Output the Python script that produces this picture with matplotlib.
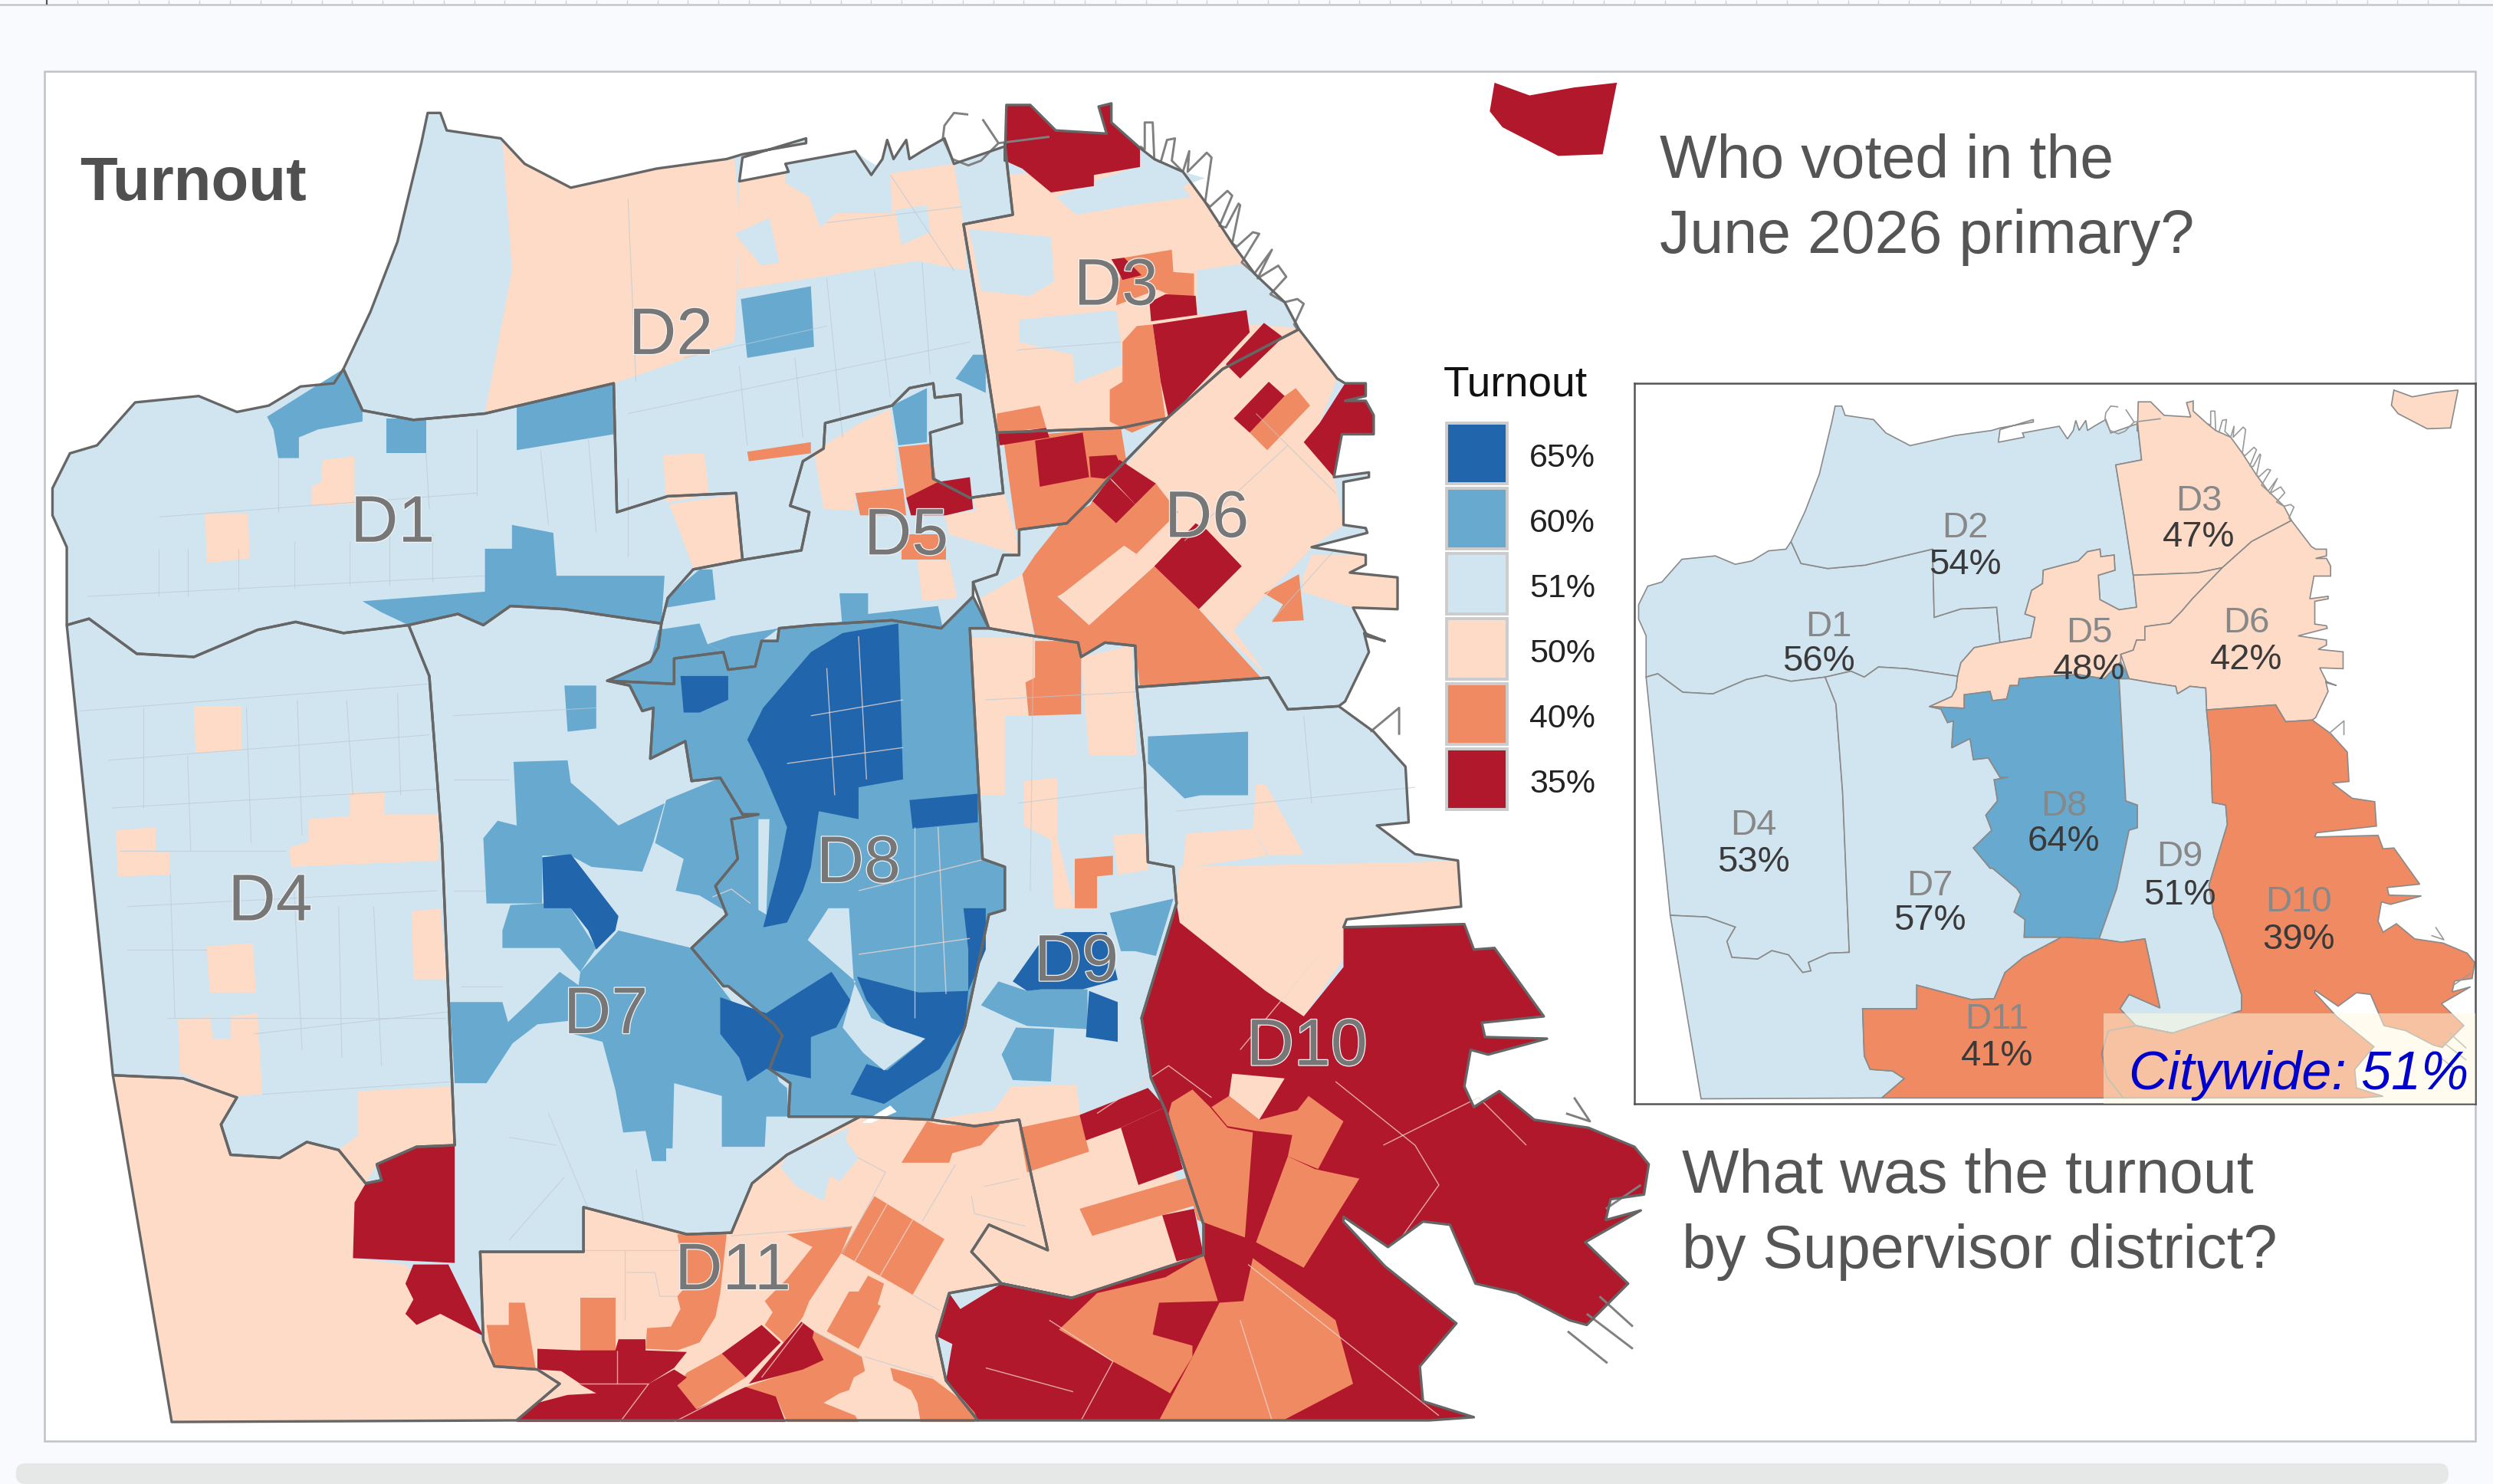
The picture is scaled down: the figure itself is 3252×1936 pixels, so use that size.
import matplotlib

matplotlib.use("Agg")
import matplotlib.pyplot as plt
import matplotlib.patheffects as pe
from matplotlib.collections import LineCollection
from matplotlib.patches import FancyBboxPatch, Rectangle

plt.rcParams["font.family"] = ["Liberation Sans", "DejaVu Sans"]

# colours of the six turnout classes
legend_labels = ["65%", "60%", "51%", "50%", "40%", "35%"]
legend_colours = ["#2166ac", "#67a9cf", "#d1e5f0", "#fddbc7", "#ef8a62", "#b2182b"]
C65, C60, C51, C50, C40, C35 = legend_colours

# district shapes
coast_d1 = [(42, 393), (42, 344), (33, 324), (33, 307), (44, 285), (61, 280), (85, 253), (125, 249), (149, 259), (169, 255), (189, 243), (210, 241), (216, 232)]
coast_d2 = [(233, 196), (250, 152), (265, 90), (269, 71), (277, 71), (281, 82), (315, 87), (330, 103), (359, 118), (413, 106), (457, 100), (467, 97), (507, 90), (507, 87), (467, 99), (465, 114), (496, 108), (494, 103), (538, 95), (548, 110), (555, 100), (558, 88), (562, 100), (570, 88), (572, 100), (580, 95), (594, 87), (600, 103), (632, 92)]
coast_d3 = [(632, 90), (632, 101), (633, 66), (648, 66), (664, 82), (696, 84), (691, 67), (699, 65), (699, 77), (717, 93), (726, 100), (744, 108), (758, 127), (775, 153), (789, 172), (808, 190), (817, 207)]
coast_d6 = [(841, 238), (846, 241), (859, 241), (859, 249), (846, 252), (859, 252), (864, 261), (864, 273), (844, 273), (839, 300), (861, 297), (861, 300), (845, 303), (845, 330), (859, 332), (860, 335), (825, 344), (859, 349), (859, 355), (849, 360), (879, 363), (879, 383), (851, 382), (860, 400), (871, 403), (858, 398), (861, 410), (846, 441), (842, 444)]
coast_d10 = [(864, 460), (884, 482), (886, 517), (866, 519), (890, 537), (917, 541), (919, 570), (847, 578), (845, 583), (921, 581), (927, 597), (940, 596), (971, 639), (932, 643), (934, 652), (973, 653), (936, 663), (925, 660), (921, 683), (927, 696), (943, 686), (965, 704), (999, 709), (1028, 721), (1037, 732), (1034, 751), (1013, 754), (1010, 767), (1032, 761), (997, 781), (1024, 807), (1019, 812), (998, 833), (987, 830), (954, 813), (928, 807), (912, 770), (895, 768), (873, 784), (845, 765), (845, 768), (871, 796), (916, 832), (893, 859), (895, 881), (927, 891), (899, 893)]

d1_d2_line = [(228, 258), (260, 264), (305, 260), (386, 241), (388, 322), (420, 312), (463, 310)]
d1_south = [(467, 352), (436, 358), (420, 376), (416, 392), (355, 383), (321, 381), (304, 393), (288, 386), (257, 393), (216, 398), (186, 391), (162, 396), (122, 413), (86, 411), (56, 389)]
d2_d5_line = [(631, 310), (610, 313), (587, 301), (585, 272), (605, 266), (604, 248), (588, 250), (587, 241), (572, 244), (561, 255), (519, 266), (518, 282), (505, 290), (497, 318), (509, 322), (504, 346), (467, 352)]
d3_west = [(627, 272), (616, 201), (606, 141), (637, 135)]
d3_d6_line = [(817, 207), (769, 232), (734, 263)]
d5_d6_line = [(734, 263), (698, 300), (685, 315), (671, 329), (641, 333), (641, 349), (631, 349), (627, 361), (612, 366)]
d8_north = [(382, 428), (424, 430), (424, 414), (455, 410), (458, 421), (475, 419), (479, 403), (489, 403), (490, 395), (511, 393), (561, 390), (592, 395), (612, 375)]
d8_west = [(382, 428), (396, 431), (404, 447), (411, 445), (409, 477), (431, 466), (435, 491), (453, 489), (467, 512), (477, 512), (460, 515), (464, 540), (450, 557), (457, 575), (435, 596), (455, 620), (458, 620), (487, 644), (492, 651), (484, 672), (497, 681), (496, 702), (541, 702)]
d8_d9_line = [(622, 395), (610, 395), (618, 540), (632, 545), (632, 572), (622, 575), (607, 645), (586, 704)]
d6_south = [(622, 395), (651, 400), (678, 404), (680, 413), (695, 404), (714, 406), (715, 432), (798, 426), (810, 446), (842, 444)]
d9_d10_line = [(715, 432), (720, 482), (722, 542), (738, 545), (740, 568), (718, 640), (724, 678), (733, 698), (757, 770), (757, 789), (674, 816)]
d11_d9_line = [(586, 704), (613, 708), (641, 704), (659, 786), (622, 770), (611, 787), (630, 807), (674, 816)]
d11_north = [(541, 702), (495, 726), (473, 744), (460, 775), (432, 776), (367, 759), (367, 787), (302, 787), (304, 843), (311, 859), (338, 861), (352, 870), (325, 893)]
d11_south = [(630, 807), (597, 813), (589, 840), (595, 868), (615, 893)]
d4_south = [(286, 720), (262, 721), (237, 732), (240, 742), (230, 744), (213, 723), (193, 718), (176, 728), (145, 726), (139, 707), (149, 690), (115, 678), (71, 676)]
d4_d7_line = [(257, 393), (270, 425), (278, 530), (286, 720)]

# the areas of one class, by turnout
peach_areas = [
    [(316, 87), (330, 103), (359, 118), (413, 106), (462, 100), (465, 140), (462, 215), (386, 241), (305, 260), (322, 170)],
    [(465, 114), (496, 108), (560, 109), (600, 103), (606, 140), (608, 170), (577, 164), (516, 174), (464, 182)],
    [(122, 444), (152, 444), (152, 472), (123, 473)],
    [(73, 522), (98, 520), (98, 536), (107, 536), (107, 550), (74, 551)],
    [(182, 533), (194, 529), (194, 515), (220, 513), (220, 498), (242, 498), (242, 512), (276, 512), (276, 541), (183, 545)],
    [(259, 573), (277, 571), (281, 616), (260, 616)],
    [(130, 595), (159, 593), (161, 624), (132, 624)],
    [(112, 641), (132, 639), (134, 653), (145, 653), (145, 639), (162, 637), (165, 688), (147, 689), (127, 681), (113, 674)],
    [(129, 323), (156, 323), (157, 351), (130, 354)],
    [(203, 289), (223, 287), (223, 317), (196, 318), (196, 306), (202, 303)],
    [(417, 286), (443, 285), (446, 311), (419, 316)],
    [(421, 317), (462, 311), (467, 352), (436, 357)],
    [(71, 676), (115, 678), (149, 690), (139, 707), (145, 726), (176, 728), (193, 718), (213, 723), (230, 744), (222, 791), (255, 795), (304, 843), (311, 859), (338, 861), (352, 870), (325, 893), (108, 893)],
    [(225, 686), (284, 683), (286, 720), (264, 721), (237, 732), (230, 744), (213, 723), (225, 714)],
    [(302, 787), (367, 787), (367, 759), (432, 776), (460, 775), (473, 744), (495, 726), (541, 702), (586, 704), (625, 698), (636, 683), (677, 682), (680, 705), (722, 690), (757, 789), (674, 816), (630, 807), (597, 813), (589, 840), (595, 868), (615, 893), (325, 893), (352, 870), (338, 861), (311, 859), (304, 843)],
    [(632, 92), (633, 110), (717, 103), (744, 108), (758, 127), (775, 153), (789, 172), (808, 190), (817, 207), (769, 232), (734, 263), (705, 269), (627, 272), (616, 201), (606, 141), (637, 135)],
    [(512, 284), (541, 266), (560, 257), (563, 280), (565, 306), (538, 310), (538, 321), (518, 320)],
    [(612, 313), (632, 311), (638, 332), (641, 349), (597, 336), (594, 324), (614, 321)],
    [(577, 352), (597, 352), (602, 376), (580, 378)],
    [(817, 207), (841, 238), (830, 266), (839, 300), (845, 330), (825, 344), (800, 370), (776, 396), (798, 426), (754, 383), (715, 349), (687, 317), (734, 263), (769, 232)],
    [(825, 349), (859, 349), (859, 355), (849, 360), (879, 363), (879, 383), (851, 382), (820, 392), (819, 364)],
    [(617, 376), (643, 361), (650, 398), (622, 395)],
    [(609, 401), (651, 401), (651, 426), (645, 429), (647, 450), (632, 450), (632, 500), (611, 500)],
    [(680, 413), (712, 406), (715, 475), (685, 475)],
    [(644, 491), (665, 489), (665, 527), (676, 571), (663, 571), (661, 528), (644, 519)],
    [(700, 525), (720, 524), (722, 547), (703, 550)],
    [(892, 542), (917, 541), (919, 570), (847, 578), (845, 603), (820, 639), (796, 623), (742, 580), (740, 563), (742, 545)],
    [(746, 524), (788, 521), (797, 538), (744, 546)],
    [(790, 493), (796, 493), (820, 537), (798, 538), (788, 521)],
]
light_areas = [
    [(494, 107), (538, 95), (546, 101), (560, 109), (561, 134), (526, 134), (516, 143), (509, 124), (494, 115)],
    [(563, 132), (583, 129), (585, 146), (567, 154)],
    [(462, 147), (484, 137), (490, 165), (479, 167)],
    [(664, 124), (688, 114), (717, 104), (726, 100), (744, 108), (758, 112), (744, 117), (749, 124), (712, 129), (677, 135)],
    [(609, 144), (661, 149), (663, 177), (648, 186), (617, 183), (612, 155)],
    [(641, 201), (702, 195), (707, 229), (676, 241), (675, 223), (641, 215)],
    [(753, 170), (780, 166), (789, 172), (808, 190), (815, 206), (785, 204), (753, 197)],
    [(776, 396), (812, 370), (851, 382), (859, 410), (842, 444), (810, 446), (798, 426)],
    [(534, 709), (532, 717), (540, 728), (528, 743), (522, 739), (518, 755), (501, 746), (491, 734), (495, 726)],
]
blue60_areas = [
    [(168, 262), (195, 245), (216, 232), (228, 258), (228, 265), (200, 270), (188, 275), (188, 288), (175, 288), (172, 270)],
    [(243, 263), (268, 263), (268, 285), (243, 285)],
    [(325, 255), (386, 241), (386, 273), (325, 283)],
    [(228, 378), (305, 372), (305, 345), (322, 345), (322, 330), (348, 335), (350, 362), (418, 362), (416, 392), (355, 383), (321, 381), (304, 393), (288, 386), (257, 393), (240, 385)],
    [(466, 188), (510, 180), (512, 218), (470, 225)],
    [(561, 255), (583, 244), (583, 278), (565, 280)],
    [(601, 238), (612, 223), (620, 223), (620, 247)],
    [(528, 373), (546, 373), (546, 386), (590, 381), (593, 395), (561, 390), (530, 396)],
    [(419, 376), (440, 358), (448, 358), (450, 377), (419, 382)],
    [(382, 428), (409, 416), (414, 396), (440, 392), (445, 405), (455, 410), (424, 414), (424, 430)],
    [(460, 400), (490, 395), (479, 403), (475, 419), (458, 421), (455, 410), (445, 405)],
    [(382, 428), (424, 430), (424, 414), (455, 410), (458, 421), (475, 419), (479, 403), (489, 403), (490, 395), (511, 393), (561, 390), (592, 395), (612, 375), (622, 395), (610, 395), (618, 540), (632, 545), (632, 572), (622, 575), (607, 645), (586, 704), (541, 702), (496, 702), (497, 681), (484, 672), (492, 651), (487, 644), (458, 620), (455, 620), (435, 596), (457, 575), (450, 557), (464, 540), (460, 515), (477, 512), (467, 512), (453, 489), (435, 491), (431, 466), (409, 477), (411, 445), (404, 447), (396, 431)],
    [(323, 479), (357, 478), (359, 492), (374, 505), (389, 519), (418, 505), (411, 529), (404, 548), (372, 545), (359, 538), (341, 538), (341, 568), (306, 568), (304, 527), (313, 516), (325, 519)],
    [(321, 569), (342, 568), (359, 571), (375, 596), (365, 611), (352, 596), (316, 596), (316, 585)],
    [(419, 503), (453, 489), (470, 510), (470, 545), (455, 572), (440, 563), (425, 560), (430, 540), (412, 530)],
    [(389, 585), (435, 596), (468, 640), (480, 650), (490, 680), (495, 684), (496, 702), (482, 702), (481, 721), (454, 721), (454, 689), (424, 681), (423, 722), (419, 722), (419, 730), (410, 730), (406, 711), (392, 712), (387, 685), (379, 655), (360, 650), (365, 611)],
    [(352, 611), (369, 623), (365, 641), (338, 644), (321, 657), (318, 644), (333, 630)],
    [(283, 630), (316, 630), (323, 655), (306, 681), (286, 681)],
    [(355, 431), (375, 431), (375, 458), (357, 460)],
    [(698, 574), (738, 565), (727, 601), (714, 598), (705, 598)],
    [(617, 632), (628, 617), (646, 623), (654, 622), (684, 622), (684, 647), (646, 645), (634, 640)],
    [(639, 646), (663, 647), (661, 680), (637, 679), (630, 663)],
    [(722, 463), (785, 460), (785, 500), (755, 500), (745, 502), (722, 480)],
]
blue65_areas = [
    [(470, 465), (480, 445), (510, 410), (530, 398), (565, 392), (568, 490), (540, 495), (540, 515), (515, 510), (510, 545), (505, 560), (495, 580), (480, 583), (490, 545), (495, 520), (480, 485)],
    [(428, 425), (458, 425), (458, 440), (440, 448), (430, 448)],
    [(341, 539), (359, 537), (389, 576), (387, 585), (375, 597), (370, 585), (359, 571), (342, 571)],
    [(453, 627), (482, 637), (499, 626), (523, 611), (535, 629), (526, 646), (510, 652), (510, 678), (482, 672), (470, 680), (465, 665), (453, 650)],
    [(539, 614), (578, 624), (609, 623), (607, 645), (591, 672), (556, 694), (535, 688), (545, 669), (558, 673), (580, 655), (559, 646), (545, 629)],
    [(572, 503), (615, 499), (615, 517), (574, 521)],
    [(606, 571), (620, 571), (620, 597), (609, 623), (609, 597)],
    [(637, 617), (654, 593), (670, 586), (696, 586), (703, 616), (681, 622), (655, 622), (646, 623)],
    [(685, 623), (703, 630), (703, 655), (683, 652)],
]
orange_areas = [
    [(470, 284), (510, 278), (510, 285), (471, 290)],
    [(707, 162), (737, 157), (738, 171), (751, 172), (751, 186), (737, 186), (728, 182), (702, 192), (704, 177)],
    [(715, 205), (725, 204), (733, 263), (712, 272), (698, 265), (698, 245), (706, 240), (706, 215)],
    [(627, 260), (654, 255), (658, 269), (627, 272)],
    [(631, 275), (705, 269), (709, 293), (685, 315), (671, 329), (639, 333), (634, 297)],
    [(538, 310), (568, 307), (570, 324), (541, 324)],
    [(565, 281), (585, 279), (590, 309), (570, 313)],
    [(567, 336), (595, 336), (595, 352), (567, 352)],
    [(815, 244), (824, 255), (797, 283), (786, 272), (808, 249)],
    [(643, 361), (651, 349), (671, 324), (687, 317), (715, 349), (665, 375), (685, 393), (726, 356), (754, 383), (793, 426), (717, 432), (714, 406), (695, 404), (680, 413), (678, 404), (651, 400)],
    [(687, 315), (702, 329), (714, 317), (727, 304), (741, 322), (708, 355), (671, 345)],
    [(817, 361), (820, 390), (800, 391), (807, 380), (795, 373)],
    [(651, 403), (680, 403), (680, 449), (647, 450), (645, 429), (651, 426)],
    [(676, 540), (700, 538), (700, 550), (690, 551), (690, 571), (676, 571)],
    [(679, 760), (748, 740), (751, 758), (687, 777)],
    [(641, 709), (679, 701), (685, 724), (646, 737)],
    [(583, 705), (591, 707), (613, 708), (629, 707), (617, 720), (599, 725), (597, 731), (567, 731)],
    [(550, 752), (594, 779), (574, 814), (529, 788)],
    [(546, 802), (556, 807), (552, 820), (554, 821), (540, 848), (520, 837), (534, 812), (540, 812)],
    [(306, 833), (320, 833), (320, 819), (330, 819), (337, 861), (310, 858)],
    [(365, 816), (387, 816), (387, 849), (365, 849)],
    [(426, 776), (457, 776), (453, 813), (450, 828), (440, 844), (426, 849), (406, 848), (407, 835), (422, 834), (428, 823), (426, 815), (432, 808)],
    [(495, 776), (536, 771), (529, 788), (509, 818), (505, 828), (493, 844), (481, 833), (486, 825), (481, 818), (495, 804), (511, 784)],
    [(454, 851), (469, 866), (438, 886), (426, 871), (432, 863)],
    [(469, 872), (505, 860), (512, 837), (542, 853), (544, 862), (537, 866), (534, 874), (528, 876), (518, 882), (538, 890), (540, 894), (495, 894), (488, 878), (474, 883)],
    [(560, 860), (587, 867), (615, 888), (613, 894), (579, 894), (577, 882), (573, 874), (562, 868)],
]
red_areas = [
    [(633, 66), (648, 66), (664, 82), (696, 84), (691, 67), (699, 65), (699, 77), (717, 93), (717, 105), (688, 110), (688, 117), (661, 121), (643, 106), (632, 101)],
    [(940, 52), (962, 60), (990, 55), (1017, 52), (1008, 97), (980, 98), (945, 80), (937, 70)],
    [(699, 163), (707, 162), (718, 173), (706, 176), (702, 168)],
    [(723, 190), (733, 185), (752, 186), (753, 198), (724, 202)],
    [(725, 204), (784, 195), (786, 209), (735, 263), (730, 240)],
    [(795, 203), (807, 212), (780, 238), (771, 229)],
    [(627, 273), (658, 269), (660, 275), (629, 280)],
    [(651, 277), (681, 272), (685, 300), (654, 306)],
    [(685, 287), (702, 286), (705, 293), (695, 301), (686, 300)],
    [(590, 303), (610, 300), (612, 320), (595, 324), (573, 324), (570, 313)],
    [(798, 240), (808, 249), (786, 272), (776, 263)],
    [(846, 241), (859, 241), (859, 249), (846, 252), (859, 252), (864, 261), (864, 273), (844, 273), (839, 300), (820, 278), (830, 266)],
    [(704, 289), (727, 304), (714, 317), (698, 300)],
    [(698, 301), (714, 317), (702, 329), (687, 315)],
    [(759, 333), (781, 356), (754, 383), (726, 356), (752, 329)],
    [(237, 732), (262, 721), (286, 720), (286, 794), (222, 791), (223, 756), (230, 744), (240, 742)],
    [(260, 795), (282, 795), (304, 840), (277, 826), (262, 833), (255, 826), (260, 817), (255, 807)],
    [(338, 848), (364, 849), (387, 849), (389, 842), (406, 842), (406, 849), (432, 850), (424, 860), (408, 870), (365, 870), (353, 862), (338, 861)],
    [(338, 882), (357, 877), (375, 876), (364, 870), (408, 870), (424, 861), (432, 866), (426, 871), (438, 886), (469, 872), (488, 878), (494, 894), (325, 894)],
    [(454, 851), (479, 833), (491, 844), (469, 866)],
    [(471, 870), (504, 831), (512, 837), (511, 841), (518, 855), (505, 861)],
    [(679, 701), (722, 684), (733, 696), (705, 709), (683, 717)],
    [(705, 709), (733, 696), (744, 735), (716, 745)],
    [(731, 764), (751, 760), (757, 789), (740, 793)],
    [(742, 580), (796, 623), (820, 639), (845, 608), (845, 583), (921, 581), (927, 597), (940, 596), (971, 639), (932, 643), (934, 652), (973, 653), (936, 663), (925, 660), (921, 683), (927, 696), (943, 686), (965, 704), (999, 709), (1028, 721), (1037, 732), (1034, 751), (1013, 754), (1010, 767), (1032, 761), (997, 781), (1024, 807), (1019, 812), (998, 833), (987, 830), (954, 813), (928, 807), (912, 770), (895, 768), (873, 784), (845, 765), (845, 768), (871, 796), (916, 832), (893, 859), (895, 881), (927, 891), (899, 893), (615, 893), (613, 888), (595, 868), (599, 845), (589, 840), (597, 813), (604, 823), (630, 807), (674, 816), (757, 789), (757, 770), (733, 698), (724, 678), (718, 640), (740, 568)],
]
top_orange_areas = [
    [(737, 693), (750, 685), (761, 696), (772, 709), (788, 712), (783, 778), (753, 767), (735, 700)],
    [(762, 696), (773, 689), (792, 704), (816, 698), (816, 714), (790, 711), (772, 708)],
    [(823, 689), (845, 705), (829, 735), (810, 727), (816, 698)],
    [(810, 727), (827, 735), (855, 741), (820, 797), (790, 781)],
    [(666, 836), (690, 813), (733, 803), (757, 789), (766, 818), (729, 819), (725, 839), (750, 846), (750, 853), (736, 876), (722, 868), (700, 856)],
    [(782, 818), (788, 791), (840, 830), (851, 870), (807, 893), (729, 893), (750, 853), (767, 819)],
]
top_peach_areas = [
    [(666, 375), (707, 343), (726, 356), (685, 393)],
    [(775, 675), (808, 678), (792, 704), (773, 689)],
]
top_light_areas = [
    [(508, 591), (521, 571), (534, 571), (537, 617), (548, 640), (561, 646), (582, 653), (556, 673), (543, 662), (530, 646), (538, 617)],
    [(477, 515), (484, 515), (482, 575), (477, 572)],
]
notch_area = [(542, 706), (560, 695), (564, 699), (548, 706)]

# thin precinct lines
precinct_lines = [
    [(55, 375), (305, 362)], [(100, 375), (100, 345)], [(118, 375), (118, 345)], [(150, 372), (150, 345)], [(185, 370), (185, 340)], [(220, 368), (220, 340)], [(245, 368), (245, 335)], [(272, 366), (272, 335)], [(100, 325), (300, 310)],
    [(175, 288), (175, 322)], [(268, 285), (270, 320)], [(300, 270), (300, 312)], [(340, 283), (345, 330)], [(370, 275), (375, 335)], [(395, 350), (395, 300)],
    [(50, 447), (270, 430)], [(68, 478), (270, 462)], [(70, 508), (275, 496)], [(75, 535), (180, 535)], [(80, 570), (275, 560)], [(80, 597), (130, 597)], [(105, 640), (280, 640)], [(160, 650), (283, 636)], [(165, 688), (285, 680)],
    [(90, 445), (90, 508)], [(118, 475), (120, 535)], [(155, 445), (158, 530)], [(187, 440), (190, 525)], [(218, 440), (222, 500)], [(250, 436), (252, 500)], [(107, 550), (110, 640)], [(185, 560), (190, 660)], [(213, 570), (215, 665)], [(235, 570), (240, 670)],
    [(395, 125), (400, 240)], [(430, 225), (520, 205)], [(520, 175), (530, 275)], [(550, 170), (560, 250)], [(580, 165), (585, 235)], [(395, 260), (610, 215)], [(465, 230), (470, 280)], [(500, 225), (505, 275)],
    [(285, 450), (375, 445)], [(285, 490), (320, 490)], [(285, 560), (305, 560)], [(290, 620), (316, 620)], [(320, 715), (350, 720)], [(345, 700), (370, 760)], [(400, 735), (405, 770)], [(355, 740), (320, 780)],
    [(620, 440), (715, 435)], [(640, 505), (720, 495)], [(650, 400), (648, 560)], [(740, 510), (890, 495)], [(820, 450), (825, 505)],
    [(560, 110), (600, 170)], [(520, 140), (605, 130)], [(640, 220), (705, 215)], [(745, 340), (810, 280)], [(790, 260), (840, 310)], [(800, 390), (840, 345)],
    [(460, 777), (536, 771)], [(367, 786), (430, 786)], [(393, 786), (393, 830)], [(394, 800), (412, 800), (415, 815), (426, 815)], [(574, 814), (591, 824)], [(512, 837), (542, 853)], [(544, 853), (587, 866)], [(557, 737), (540, 728)], [(601, 732), (580, 768)], [(619, 746), (641, 741)], [(611, 752), (613, 763), (645, 771)], [(557, 737), (530, 788)],
]
white_lines = [
    [(510, 450), (568, 440)], [(495, 480), (568, 470)], [(540, 400), (545, 490)], [(520, 420), (525, 500)], [(575, 520), (575, 640)], [(540, 560), (620, 540)], [(540, 600), (610, 590)], [(590, 520), (595, 625)],
    [(775, 395), (824, 346)], [(448, 564), (460, 559), (472, 568)],
    [(780, 660), (830, 600)], [(840, 680), (890, 720), (905, 745), (880, 780)], [(870, 720), (930, 690), (960, 720)], [(785, 795), (905, 890)], [(690, 700), (735, 670), (762, 690)], [(620, 860), (675, 875)], [(660, 830), (700, 856), (680, 893)],
    [(780, 830), (800, 893)], [(558, 757), (537, 794)], [(574, 767), (553, 803)], [(364, 870), (408, 870)], [(388, 849), (388, 870)], [(408, 870), (390, 894)], [(471, 870), (424, 894)], [(479, 866), (505, 832)],
]
# the horseshoe pier and the combs of piers
pier_lines = [
    [(609, 72), (600, 71), (594, 79), (593, 87), (599, 100), (609, 104), (617, 101), (628, 90), (618, 75)],
    [(628, 90), (660, 86)],
    [(717, 92), (720, 94), (720, 77), (725, 77), (726, 100), (730, 102), (734, 88), (739, 87), (737, 101), (744, 108), (748, 95), (747, 108), (759, 96), (762, 99), (758, 127), (761, 130), (772, 120), (775, 123), (767, 142), (771, 143), (779, 128), (780, 129), (775, 153), (778, 155), (788, 146), (792, 147), (781, 165), (789, 172), (800, 157), (791, 175), (804, 167), (809, 174), (799, 185), (808, 190), (816, 188), (820, 191), (814, 204), (816, 207)],
    [(986, 837), (1011, 857)], [(998, 826), (1027, 848)], [(1006, 815), (1027, 834)], [(1010, 760), (1032, 745)], [(985, 700), (1000, 705), (990, 690)], [(862, 460), (880, 445), (880, 462)],
]

main_labels = ["D1", "D2", "D3", "D4", "D5", "D6", "D7", "D8", "D9", "D10", "D11"]
main_label_x = [247, 422, 702, 170, 570, 759, 381, 540, 677, 822, 461]
main_label_y = [330, 212, 181, 568, 338, 327, 639, 544, 606, 659, 800]

inset_turnout = ["56%", "54%", "47%", "53%", "48%", "42%", "57%", "64%", "51%", "39%", "41%"]
inset_label_x = [1150, 1236, 1383, 1103, 1314, 1413, 1214, 1298, 1371, 1446, 1256]
inset_label_y = [394, 332, 315, 519, 398, 392, 557, 507, 539, 567, 641]
inset_value_x = [1144, 1236, 1383, 1103, 1314, 1413, 1214, 1298, 1371, 1446, 1256]
inset_value_y = [416, 355, 338, 542, 421, 415, 579, 529, 563, 591, 664]
district_colours = [C51, C51, C50, C51, C50, C50, C51, C60, C51, C40, C40]


def districts():
    # closed outlines, in the order of district_colours
    d1 = coast_d1 + d1_d2_line + d1_south
    d2 = [(216, 232)] + coast_d2 + [(637, 135), (606, 141), (616, 201), (627, 272)] + d2_d5_line + [(463, 310), (420, 312), (388, 322), (386, 241), (305, 260), (260, 264), (228, 258)]
    d3 = coast_d3 + d3_d6_line + [(705, 269)] + d3_west
    d4 = [(42, 393), (56, 389), (86, 411), (122, 413), (162, 396), (186, 391), (216, 398)] + d4_d7_line + d4_south
    d5 = [(416, 392), (414, 407), (409, 416)] + d8_north + [(612, 366)] + d5_d6_line[::-1] + [(705, 269), (627, 272)] + d2_d5_line + [(436, 358), (420, 376)]
    d6 = [(817, 207)] + coast_d6 + d6_south[::-1] + [(612, 366)] + d5_d6_line[::-1] + d3_d6_line[::-1]
    d7 = [(257, 393), (288, 386), (304, 393), (321, 381), (355, 383), (416, 392), (414, 407), (409, 416)] + d8_west + d11_north + [(108, 894)] + d4_south[::-1] + d4_d7_line[::-1]
    d8 = d8_north + d8_d9_line + [(541, 702)] + d8_west[::-1]
    d9 = d8_d9_line[::-1] + d6_south[:7] + d9_d10_line + d11_d9_line[::-1]
    d10 = [(842, 444)] + coast_d10 + d11_south[::-1] + d9_d10_line[::-1] + d6_south[6:]
    d11 = d11_north + [(615, 893)] + d11_south[::-1] + d11_d9_line[::-1]
    return [d1, d2, d3, d4, d5, d6, d7, d8, d9, d10, d11]


def fill_areas(axis, areas, colour, z):
    for area in areas:
        xs, ys = zip(*area)
        axis.fill(xs, ys, color=colour, lw=0, zorder=z)


fig = plt.figure(figsize=(16.26, 9.68), dpi=200, facecolor="#f8fafd")

ax = fig.add_axes([0, 0, 1, 1], zorder=1)
ax.set_xlim(0, 1568)
ax.set_ylim(933, 0)
ax.axis("off")

# page furniture
ax.add_patch(Rectangle((28, 45), 1529, 861, fc="white", ec="#bfc2c6", lw=0.9, zorder=0))
ax.add_patch(FancyBboxPatch((10, 920), 1530, 13, boxstyle="round,pad=0,rounding_size=6", fc="#e6e8e8", ec="none", zorder=0))
ax.plot([0, 1568], [3, 3], color="#c4c6c8", lw=0.9, zorder=0)
ax.vlines([x * 19.2 + 29.5 for x in range(1, 80)], 0, 3, color="#cfd1d3", lw=0.5, zorder=0)
ax.vlines([29.5], 0, 3, color="#555555", lw=0.8, zorder=0)

# main map
for shape in districts():
    xs, ys = zip(*shape)
    ax.fill(xs, ys, color=C51, lw=0, zorder=1)
layers = [
    (peach_areas, C50), (light_areas, C51), (blue60_areas, C60), (orange_areas, C40),
    (red_areas, C35), (top_orange_areas, C40), (top_peach_areas, C50),
    (blue65_areas, C65), (top_light_areas, C51), ([notch_area], "white"),
]
for n, (areas, colour) in enumerate(layers):
    fill_areas(ax, areas, colour, 2 + n * 0.08)

ax.add_collection(LineCollection(precinct_lines, colors="#bccad3", linewidths=0.4, alpha=0.7, zorder=3))
ax.add_collection(LineCollection(white_lines, colors="#f3d9d0", linewidths=0.5, alpha=0.75, zorder=3))
ax.add_collection(LineCollection(pier_lines, colors="#808080", linewidths=1.05, zorder=3))
for shape in districts():
    xs, ys = zip(*shape)
    ax.fill(xs, ys, fc="none", ec="#666666", lw=1.2, zorder=4, joinstyle="round")

halo = [pe.withStroke(linewidth=0.9, foreground="#f4f4f4")]
for name, x, y in zip(main_labels, main_label_x, main_label_y):
    ax.text(x, y, name, fontsize=31, color="#777777", ha="center", va="center", zorder=5, path_effects=halo)

ax.text(50, 116, "Turnout", fontsize=28.7, fontweight="bold", color="#505050", va="center", zorder=5)
ax.text(1044, 102, "Who voted in the", fontsize=28.4, color="#555555", va="center", zorder=5)
ax.text(1044, 149, "June 2026 primary?", fontsize=28.4, color="#555555", va="center", zorder=5)
ax.text(1058, 740, "What was the turnout", fontsize=28.4, color="#555555", va="center", zorder=5)
ax.text(1058, 787, "by Supervisor district?", fontsize=28.4, color="#555555", va="center", zorder=5)

# legend
ax.text(908, 242, "Turnout", fontsize=19.8, color="#111111", va="center", zorder=5)
for i, (label, colour) in enumerate(zip(legend_labels, legend_colours)):
    ax.add_patch(Rectangle((910, 266 + i * 41), 38, 38, fc=colour, ec="#cccccc", lw=1.4, zorder=5))
    ax.text(962, 288 + i * 41, label, fontsize=15.5, color="#222222", va="center", zorder=5)

# inset map, same shapes at about half the size
ins = fig.add_axes([1028 / 1568, 1 - 694 / 933, 529 / 1568, 453 / 933], zorder=2)
ins.set_xlim(28, 1038)
ins.set_ylim(900, 44)
ins.set_xticks([])
ins.set_yticks([])
for spine in ins.spines.values():
    spine.set_color("#555555")
    spine.set_linewidth(0.9)
for shape, colour in zip(districts(), district_colours):
    xs, ys = zip(*shape)
    ins.fill(xs, ys, fc=colour, ec="#8a8a8a", lw=0.6, zorder=1)
xs, ys = zip(*red_areas[1])
ins.fill(xs, ys, fc=C50, ec="#8a8a8a", lw=0.6, zorder=1)
ins.add_collection(LineCollection(pier_lines, colors="#999999", linewidths=0.6, zorder=1))

top = fig.add_axes([0, 0, 1, 1], zorder=3)
top.set_xlim(0, 1568)
top.set_ylim(933, 0)
top.axis("off")
top.patch.set_alpha(0)
top.add_patch(Rectangle((1323, 637), 234, 57, fc="#fffbe0", ec="none", alpha=0.5))
for name, x, y in zip(main_labels, inset_label_x, inset_label_y):
    top.text(x, y, name, fontsize=17, color="#888888", ha="center", va="center")
for value, x, y in zip(inset_turnout, inset_value_x, inset_value_y):
    top.text(x, y, value, fontsize=17, color="#3a3a3a", ha="center", va="center")
top.text(1339, 676, "Citywide: 51%", fontsize=25.2, style="italic", color="#0000cc", va="center")

fig.savefig("out.png", dpi=200, facecolor=fig.get_facecolor())
